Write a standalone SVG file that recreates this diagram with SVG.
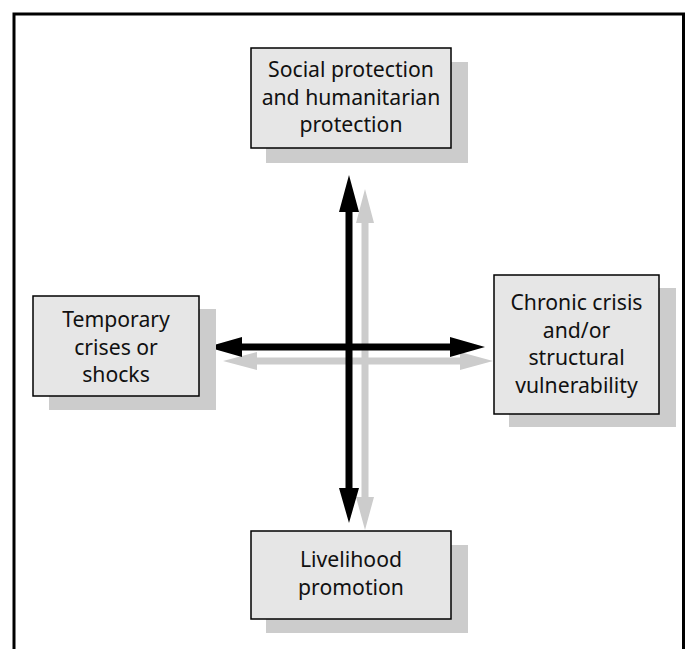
<svg xmlns="http://www.w3.org/2000/svg" width="689" height="649" viewBox="0 0 689 649">
<style>
.box{fill:#e6e6e6;stroke:#000;stroke-width:1.5}
.shadow{fill:#cccccc}
.t{font-family:"Noto Sans","Open Sans",sans-serif;font-size:21.2px;fill:#111;text-anchor:middle}
.blk{fill:#000}
.gry{fill:#cccccc}
</style>
<rect width="689" height="649" fill="#fff"/>
<path d="M14,649 V14 H683.5 V649" fill="none" stroke="#000" stroke-width="3"/>
<g id="connectors">
<polygon class="gry" points="365,189 374,223 368.5,223 368.5,497 374,497 365,530 356,497 361.5,497 361.5,223 356,223"/>
<polygon class="gry" points="223,361 257,352 257,357.5 460,357.5 460,352 493,361 460,370 460,364.5 257,364.5 257,370"/>
<polygon class="blk" points="349,175 359,212 352.5,212 352.5,488 359,488 349,523 339,488 345.5,488 345.5,212 339,212"/>
<polygon class="blk" points="207,347 242,337 242,343.5 450,343.5 450,337 485,347 450,357 450,350.5 242,350.5 242,357"/>
</g>
<g id="node-top">
<rect class="shadow" x="266" y="62" width="202" height="101"/>
<rect class="box" x="251" y="48" width="200" height="100"/>
<text class="t" x="351" y="77">Social protection</text>
<text class="t" x="351" y="104.5">and humanitarian</text>
<text class="t" x="351" y="132">protection</text>
</g>
<g id="node-left">
<rect class="shadow" x="49" y="309" width="167" height="101"/>
<rect class="box" x="33" y="296" width="166" height="100"/>
<text class="t" x="116" y="327">Temporary</text>
<text class="t" x="116" y="354.5">crises or</text>
<text class="t" x="116" y="382">shocks</text>
</g>
<g id="node-right">
<rect class="shadow" x="509" y="288" width="167" height="139"/>
<rect class="box" x="494" y="275" width="165" height="139"/>
<text class="t" x="576.5" y="310">Chronic crisis</text>
<text class="t" x="576.5" y="337.5">and/or</text>
<text class="t" x="576.5" y="365">structural</text>
<text class="t" x="576.5" y="392.5">vulnerability</text>
</g>
<g id="node-bottom">
<rect class="shadow" x="266" y="545" width="202" height="88"/>
<rect class="box" x="251" y="531" width="200" height="88"/>
<text class="t" x="351" y="567">Livelihood</text>
<text class="t" x="351" y="595">promotion</text>
</g>
</svg>
